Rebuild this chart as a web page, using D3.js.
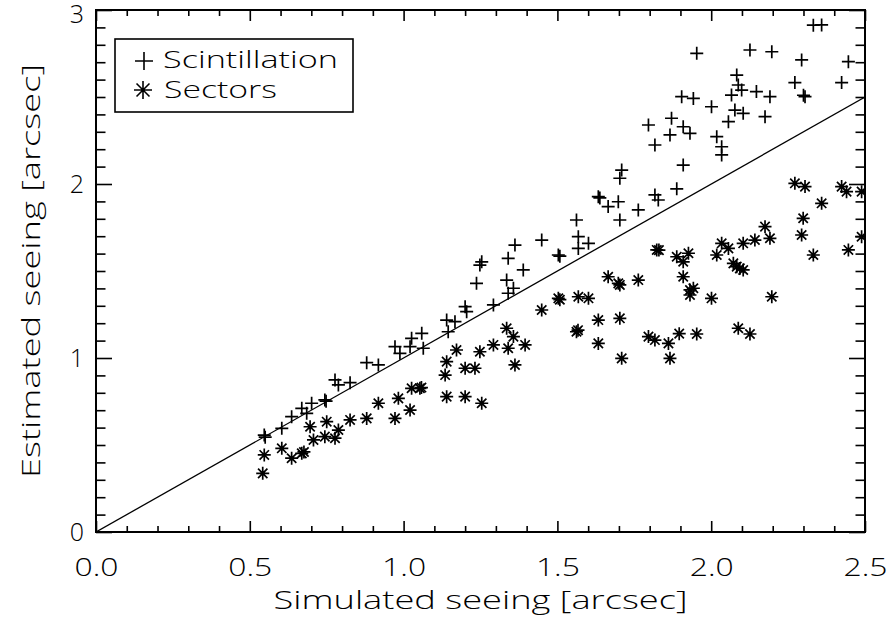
<!DOCTYPE html>
<html>
<head>
<meta charset="utf-8">
<script src="https://cdn.jsdelivr.net/npm/d3@7"></script>
<style>
  html, body { margin: 0; padding: 0; background: #fff; }
  svg { display: block; }
  text { font-family: "Open Sans", "DejaVu Sans", sans-serif; font-weight: 300; fill: #000; }
</style>
</head>
<body>
<div id="chart"></div>
<script>
// ---------------- data ----------------
const xTicks = [0.0, 0.5, 1.0, 1.5, 2.0, 2.5];
const xTickLabels = ["0.0", "0.5", "1.0", "1.5", "2.0", "2.5"];
const yTicks = [0, 1, 2, 3];
const yTickLabels = ["0", "1", "2", "3"];
const seriesNames = ["Scintillation", "Sectors"];
const xTitle = "Simulated seeing [arcsec]";
const yTitle = "Estimated seeing [arcsec]";

const scintX = [0.547,0.550,0.604,0.636,0.669,0.685,0.701,0.744,0.748,0.777,0.788,0.826,0.880,0.918,0.972,0.988,1.026,1.021,1.059,1.064,1.140,1.145,1.167,1.200,1.205,1.292,1.237,1.248,1.254,1.335,1.340,1.340,1.357,1.362,1.389,1.449,1.503,1.508,1.562,1.568,1.568,1.601,1.633,1.638,1.665,1.698,1.703,1.709,1.703,1.763,1.817,1.828,1.888,1.909,1.817,1.796,1.866,1.871,1.909,1.931,1.904,1.942,1.953,2.001,2.018,2.034,2.034,2.056,2.077,2.104,2.066,2.083,2.088,2.099,2.147,2.126,2.191,2.175,2.197,2.272,2.294,2.305,2.300,2.332,2.359,2.424,2.446];
const scintY = [0.557,0.545,0.596,0.663,0.711,0.682,0.740,0.759,0.752,0.874,0.845,0.858,0.973,0.960,1.065,1.027,1.113,1.065,1.142,1.056,1.218,1.151,1.209,1.295,1.266,1.305,1.429,1.534,1.553,1.448,1.573,1.372,1.401,1.649,1.506,1.678,1.592,1.585,1.793,1.697,1.630,1.659,1.927,1.920,1.870,1.898,1.793,2.080,2.033,1.851,1.937,1.908,1.972,2.109,2.224,2.339,2.282,2.378,2.329,2.291,2.502,2.492,2.751,2.444,2.272,2.214,2.167,2.358,2.425,2.406,2.511,2.626,2.569,2.540,2.531,2.770,2.502,2.387,2.760,2.583,2.713,2.502,2.510,2.913,2.914,2.583,2.703];

const sectX = [0.547,0.542,0.604,0.636,0.669,0.676,0.696,0.707,0.744,0.750,0.777,0.788,0.826,0.880,0.918,0.972,0.983,1.021,1.026,1.053,1.058,1.140,1.200,1.254,1.135,1.140,1.172,1.200,1.232,1.248,1.292,1.335,1.340,1.357,1.395,1.362,1.449,1.503,1.508,1.568,1.601,1.562,1.567,1.633,1.633,1.703,1.709,1.665,1.698,1.703,1.763,1.796,1.817,1.861,1.866,1.823,1.830,1.888,1.896,1.953,2.088,2.126,2.272,2.305,2.359,2.299,2.294,2.175,2.191,2.142,2.104,2.034,2.056,2.018,1.926,1.909,1.909,1.931,1.942,1.931,2.001,2.072,2.083,2.093,2.104,2.197,2.424,2.440,2.489,2.446,2.332,2.489];
const sectY = [0.443,0.337,0.481,0.424,0.452,0.460,0.605,0.529,0.548,0.634,0.539,0.586,0.644,0.653,0.740,0.653,0.768,0.701,0.826,0.826,0.830,0.778,0.778,0.740,0.902,0.979,1.046,0.941,0.941,1.036,1.075,1.171,1.056,1.123,1.075,0.960,1.276,1.343,1.335,1.352,1.343,1.151,1.160,1.218,1.084,1.228,0.998,1.467,1.429,1.420,1.448,1.123,1.103,1.084,0.998,1.621,1.620,1.582,1.140,1.138,1.171,1.138,2.004,1.985,1.889,1.803,1.707,1.755,1.688,1.678,1.659,1.659,1.630,1.592,1.602,1.553,1.467,1.391,1.401,1.362,1.343,1.544,1.525,1.515,1.506,1.352,1.985,1.956,1.956,1.621,1.592,1.697];

const refX = [0, 2.5];
const refY = [0, 2.5];

// ---------------- layout ----------------
const W = 889, H = 621;
const L = 96, R = 865, T = 10, B = 532;

const svg = d3.select("#chart").append("svg").attr("width", W).attr("height", H);

const x = d3.scaleLinear().domain([0, 2.5]).range([L, R]);
const y = d3.scaleLinear().domain([0, 3]).range([B, T]);

const xMinor = d3.range(0, 2.5001, 0.1).filter(v => Math.abs(v * 2 - Math.round(v * 2)) > 1e-6);
const yMinor = d3.range(0, 3.0001, 0.1).filter(v => Math.abs(v - Math.round(v)) > 1e-6);

function styleAxis(g) {
  g.select(".domain").remove();
  g.selectAll("line").attr("stroke", "#000").attr("stroke-width", 1.6);
}

// bottom
svg.append("g").attr("transform", `translate(0,${B})`)
  .call(d3.axisBottom(x).tickValues(xMinor).tickSize(-6).tickFormat(""))
  .call(styleAxis);
const gxb = svg.append("g").attr("transform", `translate(0,${B})`)
  .call(d3.axisBottom(x).tickValues(xTicks).tickSize(-11).tickFormat((d, i) => xTickLabels[i]))
  .call(styleAxis);
gxb.selectAll("text").attr("y", 44).attr("dy", 0).attr("font-size", 25)
  .attr("textLength", 44).attr("lengthAdjust", "spacingAndGlyphs")
  .style("font-family", "'Open Sans', sans-serif").style("font-weight", 300);

// top
svg.append("g").attr("transform", `translate(0,${T})`)
  .call(d3.axisTop(x).tickValues(xMinor).tickSize(-6).tickFormat(""))
  .call(styleAxis);
svg.append("g").attr("transform", `translate(0,${T})`)
  .call(d3.axisTop(x).tickValues(xTicks).tickSize(-11).tickFormat(""))
  .call(styleAxis);

// left
svg.append("g").attr("transform", `translate(${L},0)`)
  .call(d3.axisLeft(y).tickValues(yMinor).tickSize(-9.5).tickFormat(""))
  .call(styleAxis);
const gyl = svg.append("g").attr("transform", `translate(${L},0)`)
  .call(d3.axisLeft(y).tickValues(yTicks).tickSize(-16).tickFormat((d, i) => yTickLabels[i]))
  .call(styleAxis);
gyl.selectAll("text").attr("x", -12).attr("dy", d => d === 3 ? "0.5em" : "0.32em").attr("font-size", 25)
  .style("font-family", "'Open Sans', sans-serif").style("font-weight", 300);

// right
svg.append("g").attr("transform", `translate(${R},0)`)
  .call(d3.axisRight(y).tickValues(yMinor).tickSize(-9.5).tickFormat(""))
  .call(styleAxis);
svg.append("g").attr("transform", `translate(${R},0)`)
  .call(d3.axisRight(y).tickValues(yTicks).tickSize(-16).tickFormat(""))
  .call(styleAxis);

// frame
svg.append("rect").attr("x", L).attr("y", T).attr("width", R - L).attr("height", B - T)
  .attr("fill", "none").attr("stroke", "#000").attr("stroke-width", 2);

// clip
svg.append("clipPath").attr("id", "plotclip").append("rect")
  .attr("x", L).attr("y", T).attr("width", R - L).attr("height", B - T);
const plot = svg.append("g").attr("clip-path", "url(#plotclip)");

// reference line y = x
plot.append("path")
  .datum(refX.map((v, i) => [v, refY[i]]))
  .attr("d", d3.line().x(d => x(d[0])).y(d => y(d[1])))
  .attr("fill", "none").attr("stroke", "#000").attr("stroke-width", 1.3);

// markers
function plusPath(s) { return `M${-s},0H${s}M0,${-s}V${s}`; }
function starPath(s) {
  const d = s * 0.72;
  return `M${-s},0H${s}M0,${-s}V${s}M${-d},${-d}L${d},${d}M${-d},${d}L${d},${-d}`;
}

plot.append("g").selectAll("path")
  .data(scintX.map((v, i) => [v, scintY[i]]))
  .join("path")
  .attr("transform", d => `translate(${x(d[0])},${y(d[1])})`)
  .attr("d", plusPath(6.5))
  .attr("fill", "none").attr("stroke", "#000").attr("stroke-width", 1.7);

plot.append("g").selectAll("path")
  .data(sectX.map((v, i) => [v, sectY[i]]))
  .join("path")
  .attr("transform", d => `translate(${x(d[0])},${y(d[1])})`)
  .attr("d", starPath(6.5))
  .attr("fill", "none").attr("stroke", "#000").attr("stroke-width", 1.7);

// legend
const lg = svg.append("g");
lg.append("rect").attr("x", 115).attr("y", 39).attr("width", 238).attr("height", 73)
  .attr("fill", "#fff").attr("stroke", "#000").attr("stroke-width", 1.6);
lg.append("path").attr("transform", "translate(144,61)").attr("d", plusPath(9))
  .attr("fill", "none").attr("stroke", "#000").attr("stroke-width", 1.6);
lg.append("path").attr("transform", "translate(143,90)").attr("d", starPath(9))
  .attr("fill", "none").attr("stroke", "#000").attr("stroke-width", 1.6);
lg.append("text").attr("x", 163).attr("y", 68).attr("font-size", 24)
  .attr("textLength", 175).attr("lengthAdjust", "spacingAndGlyphs").text(seriesNames[0]);
lg.append("text").attr("x", 164).attr("y", 98).attr("font-size", 24)
  .attr("textLength", 113).attr("lengthAdjust", "spacingAndGlyphs").text(seriesNames[1]);

// axis titles
svg.append("text").attr("x", (L + R) / 2).attr("y", 609).attr("text-anchor", "middle")
  .attr("font-size", 25).attr("textLength", 414).attr("lengthAdjust", "spacingAndGlyphs")
  .text(xTitle);
svg.append("text").attr("transform", `translate(40,${(T + B) / 2}) rotate(-90)`)
  .attr("text-anchor", "middle").attr("font-size", 25)
  .attr("textLength", 414).attr("lengthAdjust", "spacingAndGlyphs")
  .text(yTitle);
</script>
</body>
</html>
